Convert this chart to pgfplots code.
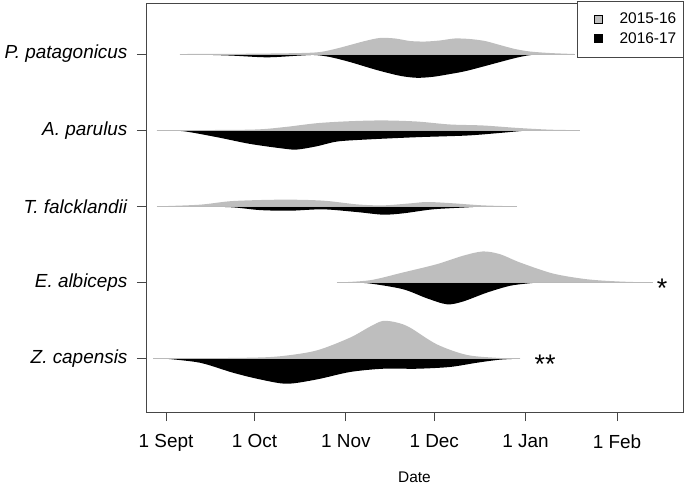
\documentclass[border=0pt]{standalone}
\usepackage{fontspec}
\setmainfont{Liberation Sans}
\usepackage{pgfplots}
\pgfplotsset{compat=1.18}
\usepackage{pgfplotstable}
\definecolor{lightg}{RGB}{190,190,190}
\definecolor{framec}{RGB}{70,70,70}

% P. patagonicus
\pgfplotstableread{
d h
4.7 0
28.5 0.004
45.5 0.013
52.2 0.026
57.3 0.066
62.4 0.118
67.5 0.171
72.6 0.211
77.7 0.204
82.8 0.171
87.9 0.164
92.9 0.178
98.0 0.204
103.1 0.197
108.2 0.171
113.3 0.118
118.4 0.066
123.5 0.033
130.3 0.013
138.7 0
}\Pg
\pgfplotstableread{
d h
4.7 0
21.7 0.02
34.3 0.043
45.5 0.02
50.5 0.013
55.6 0.039
62.4 0.105
71.6 0.211
79.4 0.286
85.1 0.312
90.6 0.299
96.3 0.263
102.1 0.22
113.3 0.105
118.4 0.053
122.5 0.02
126.9 0
}\Pb
% A. parulus
\pgfplotstableread{
d h
-2.0 0
28.5 0.007
39.7 0.039
51.2 0.092
62.4 0.118
73.6 0.128
85.1 0.114
96.3 0.075
107.5 0.062
119.1 0.03
130.3 0.007
140.4 0
}\Ag
\pgfplotstableread{
d h
-3.1 0
5.8 0.013
17.3 0.092
28.5 0.18
39.7 0.241
44.4 0.254
51.2 0.211
58.0 0.149
68.2 0.122
85.1 0.092
102.1 0.07
113.3 0.036
121.1 0.009
126.9 0
}\Ab
% T. falcklandii
\pgfplotstableread{
d h
-3.1 0
11.5 0.022
22.7 0.07
39.7 0.088
53.3 0.075
64.8 0.026
73.6 0.013
82.8 0.039
88.5 0.057
96.3 0.043
107.5 0.013
119.1 0
}\Tg
\pgfplotstableread{
d h
11.5 0
22.7 0.013
31.9 0.049
42.1 0.057
53.3 0.039
64.8 0.075
73.6 0.109
80.4 0.092
90.6 0.039
102.1 0.013
108.2 0
}\Tb
% E. albiceps
\pgfplotstableread{
d h
58.0 0
69.2 0.03
80.4 0.132
91.9 0.241
100.7 0.351
107.5 0.408
113.3 0.372
120.1 0.263
131.3 0.118
142.8 0.043
154.0 0.013
165.2 0
}\Eg
\pgfplotstableread{
d h
62.4 0
69.2 0.013
80.4 0.088
88.5 0.207
95.3 0.286
100.7 0.25
108.9 0.132
116.7 0.043
123.5 0.009
126.9 0
}\Eb
% Z. capensis
\pgfplotstableread{
d h
-4.4 0
28.5 0.013
39.7 0.036
51.2 0.109
62.4 0.276
69.2 0.421
73.6 0.496
78.4 0.474
82.8 0.408
91.9 0.188
102.1 0.049
113.3 0.009
120.1 0
}\Zg
\pgfplotstableread{
d h
-0.3 0
11.5 0.053
22.7 0.184
31.9 0.272
41.0 0.329
51.2 0.272
62.4 0.175
73.6 0.132
85.1 0.132
96.3 0.109
105.5 0.053
113.3 0.013
120.1 0
}\Zb

\begin{document}
\begin{tikzpicture}
\begin{axis}[
  width=537bp, height=409bp, scale only axis,
  xmin=-6.8, xmax=175.4, ymin=0.30, ymax=5.67,
  axis line style={framec, line width=0.7bp},
  xtick={0,30,61,91,122,153},
  xticklabels={1 Sept,1 Oct,1 Nov,1 Dec,1 Jan,1 Feb},
  ytick={1,2,3,4,5},
  yticklabels={\textit{Z. capensis},\textit{E. albiceps},\textit{T. falcklandii},\textit{A. parulus},\textit{P. patagonicus}},
  xtick pos=bottom, ytick pos=left, tick align=outside,
  major tick length=9bp,
  tick style={framec, line width=0.7bp},
  tick label style={font=\fontsize{19}{22}\selectfont},
  yticklabel style={xshift=-6bp},
  xticklabel style={yshift=-10bp},
  xlabel={Date},
  xlabel style={font=\fontsize{15.5}{18}\selectfont, yshift=-13bp},
  legend style={at={(1,1)}, anchor=north east, yshift=2bp, draw=framec,
    font=\fontsize{15.5}{18}\selectfont, legend cell align=left,
    row sep=3bp, inner xsep=4.5bp, inner ysep=10bp},
  legend image code/.code={\path[draw=none, fill=none] (0bp,0bp) -- (36bp,0bp);\draw[#1, line width=0.5bp] (13bp,-4bp) rectangle (21bp,4bp);},
]
\addlegendimage{fill=lightg, draw=black}
\addlegendentry{2015-16}
\addlegendimage{fill=black, draw=black}
\addlegendentry{2016-17}

\addplot[fill=black, draw=none, smooth, tension=0.5, forget plot] table[x=d, y expr=5-\thisrow{h}] {\Pb} -- cycle;
\addplot[fill=lightg, draw=none, smooth, tension=0.5, forget plot] table[x=d, y expr=5+\thisrow{h}] {\Pg} -- cycle;
\addplot[fill=black, draw=none, smooth, tension=0.5, forget plot] table[x=d, y expr=4-\thisrow{h}] {\Ab} -- cycle;
\addplot[fill=lightg, draw=none, smooth, tension=0.5, forget plot] table[x=d, y expr=4+\thisrow{h}] {\Ag} -- cycle;
\addplot[fill=black, draw=none, smooth, tension=0.5, forget plot] table[x=d, y expr=3-\thisrow{h}] {\Tb} -- cycle;
\addplot[fill=lightg, draw=none, smooth, tension=0.5, forget plot] table[x=d, y expr=3+\thisrow{h}] {\Tg} -- cycle;
\addplot[fill=black, draw=none, smooth, tension=0.5, forget plot] table[x=d, y expr=2-\thisrow{h}] {\Eb} -- cycle;
\addplot[fill=lightg, draw=none, smooth, tension=0.5, forget plot] table[x=d, y expr=2+\thisrow{h}] {\Eg} -- cycle;
\addplot[fill=black, draw=none, smooth, tension=0.5, forget plot] table[x=d, y expr=1-\thisrow{h}] {\Zb} -- cycle;
\addplot[fill=lightg, draw=none, smooth, tension=0.5, forget plot] table[x=d, y expr=1+\thisrow{h}] {\Zg} -- cycle;

\addplot[gray!55, line width=0.5bp, forget plot] coordinates {(4.7,5) (138.7,5)};
\addplot[gray!55, line width=0.5bp, forget plot] coordinates {(-3.1,4) (140.4,4)};
\addplot[gray!55, line width=0.5bp, forget plot] coordinates {(-3.1,3) (119.1,3)};
\addplot[gray!55, line width=0.5bp, forget plot] coordinates {(58.0,2) (165.2,2)};
\addplot[gray!55, line width=0.5bp, forget plot] coordinates {(-4.4,1) (120.1,1)};

\node[font=\fontsize{27}{27}\selectfont, anchor=center, yshift=-6bp] at (axis cs:168.3,2) {*};
\node[font=\fontsize{27}{27}\selectfont, anchor=center, yshift=-6bp] at (axis cs:128.6,1) {**};
\end{axis}
\pgfresetboundingbox
\path[use as bounding box] ([shift={(-146bp,-75bp)}]current axis.south west) rectangle ([shift={(2bp,3bp)}]current axis.north east);
\end{tikzpicture}
\end{document}
